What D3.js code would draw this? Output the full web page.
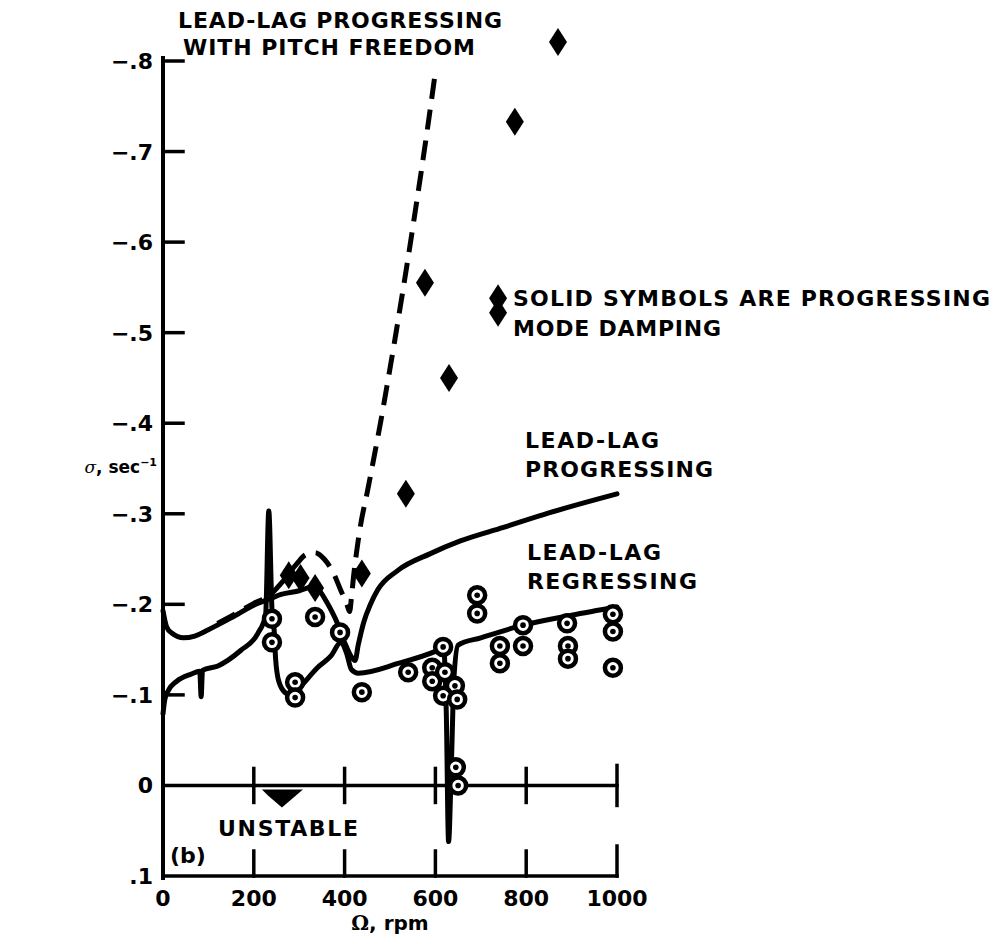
<!DOCTYPE html>
<html>
<head>
<meta charset="utf-8">
<script src="https://cdn.jsdelivr.net/npm/d3@7"></script>
<style>
  html, body { margin: 0; padding: 0; background: #fff; }
  svg { display: block; }
  text { font-family: "DejaVu Sans", "Liberation Sans", Arial, sans-serif; font-weight: bold; fill: #000; }
</style>
</head>
<body>
<svg id="chart" width="999" height="944"></svg>
<script>
// ---------------- data ----------------
const xTicks = [0, 200, 400, 600, 800, 1000];
const xTickLabels = ["0", "200", "400", "600", "800", "1000"];
const yTicks = [-0.8, -0.7, -0.6, -0.5, -0.4, -0.3, -0.2, -0.1, 0, 0.1];
const yTickLabels = ["\u2212.8", "\u2212.7", "\u2212.6", "\u2212.5", "\u2212.4", "\u2212.3", "\u2212.2", "\u2212.1", "0", ".1"];

// Lead-lag progressing (solid curve)
const progRpm   = [0, 8, 20, 45, 70, 100, 150, 200, 235, 260, 300, 335, 345, 360, 385, 400, 415, 423, 430, 442, 457, 473, 516, 589, 655, 750, 850, 1000];
const progSigma = [-0.193, -0.175, -0.168, -0.163, -0.165, -0.172, -0.185, -0.199, -0.206, -0.211, -0.215, -0.220, -0.215, -0.203, -0.178, -0.158, -0.142, -0.138, -0.155, -0.180, -0.200, -0.216, -0.237, -0.256, -0.270, -0.285, -0.301, -0.322];

// Lead-lag regressing (solid curve)
const regRpm   = [0, 4, 12, 30, 62, 81, 84, 87, 121, 171, 209, 226, 233, 240, 245, 248, 255, 270, 285, 310, 340, 370, 392, 405, 415, 430, 520, 600, 618, 624, 629, 635, 641, 650, 700, 793, 900, 1000];
const regSigma = [-0.079, -0.095, -0.105, -0.115, -0.123, -0.126, -0.098, -0.127, -0.132, -0.149, -0.168, -0.188, -0.303, -0.195, -0.170, -0.140, -0.115, -0.102, -0.099, -0.113, -0.130, -0.143, -0.158, -0.145, -0.128, -0.124, -0.135, -0.148, -0.152, -0.080, 0.062, -0.020, -0.120, -0.155, -0.163, -0.177, -0.188, -0.197];

// Lead-lag progressing with pitch freedom (dashed curve)
const pitchRpm   = [120, 150, 200, 235, 265, 295, 315, 335, 355, 375, 392, 405, 411, 415, 420, 427, 435, 450, 465, 480, 495, 510, 525, 540, 555, 570, 585, 600];
const pitchSigma = [-0.179, -0.187, -0.201, -0.210, -0.226, -0.245, -0.255, -0.257, -0.250, -0.235, -0.215, -0.200, -0.192, -0.207, -0.232, -0.260, -0.287, -0.324, -0.363, -0.403, -0.446, -0.490, -0.536, -0.583, -0.632, -0.682, -0.734, -0.788];

// Solid symbols: progressing mode damping (diamonds)
const solidRpm   = [870, 775, 577, 738, 738, 630, 535, 438, 277, 303, 335];
const solidSigma = [-0.821, -0.733, -0.555, -0.538, -0.522, -0.450, -0.322, -0.234, -0.232, -0.229, -0.218];

// Open symbols: regressing mode damping (circles)
const openRpm   = [240, 240, 335, 390, 291, 291, 438, 540, 617, 593, 593, 621, 643, 617, 648, 645, 650, 692, 692, 793, 793, 742, 742, 890, 892, 892, 991, 991, 991];
const openSigma = [-0.184, -0.158, -0.186, -0.169, -0.114, -0.097, -0.103, -0.125, -0.153, -0.130, -0.115, -0.125, -0.110, -0.099, -0.095, -0.020, 0.000, -0.210, -0.190, -0.177, -0.154, -0.154, -0.135, -0.179, -0.154, -0.140, -0.189, -0.170, -0.130];

// ---------------- chart ----------------
const svg = d3.select("#chart");
svg.append("rect").attr("width", 999).attr("height", 944).attr("fill", "#fff");

const x = d3.scaleLinear().domain([0, 1000]).range([163, 617]);
const y = d3.scaleLinear().domain([-0.8, 0.1]).range([61, 876]);

const ink = "#000";
const axisG = svg.append("g").attr("stroke", ink).attr("stroke-linecap", "square");

// left axis line
axisG.append("line")
  .attr("x1", x(0)).attr("x2", x(0))
  .attr("y1", y(-0.8) - 3).attr("y2", y(0.1) + 2)
  .attr("stroke-width", 4);

// left ticks (pointing inward)
axisG.selectAll(".ytick").data(yTicks.filter(t => t < 0)).enter().append("line")
  .attr("x1", x(0)).attr("x2", x(0) + 20)
  .attr("y1", d => y(d)).attr("y2", d => y(d))
  .attr("stroke-width", 3.5);

// zero line with crossing ticks
axisG.append("line")
  .attr("x1", x(0)).attr("x2", x(1000))
  .attr("y1", y(0)).attr("y2", y(0))
  .attr("stroke-width", 3.5);
axisG.selectAll(".ztick").data(xTicks.slice(1)).enter().append("line")
  .attr("x1", d => x(d)).attr("x2", d => x(d))
  .attr("y1", d => y(0) - (d === 1000 ? 20 : 17))
  .attr("y2", d => y(0) + (d === 1000 ? 20 : 17))
  .attr("stroke-width", 3.5);

// bottom axis line with upward ticks
axisG.append("line")
  .attr("x1", x(0)).attr("x2", x(1000))
  .attr("y1", y(0.1)).attr("y2", y(0.1))
  .attr("stroke-width", 3.5);
axisG.selectAll(".btick").data(xTicks.slice(1)).enter().append("line")
  .attr("x1", d => x(d)).attr("x2", d => x(d))
  .attr("y1", d => y(0.1) - (d === 1000 ? 30 : 25))
  .attr("y2", y(0.1))
  .attr("stroke-width", 3.5);

// y tick labels
svg.selectAll(".ylab").data(yTicks).enter().append("text")
  .attr("x", 153)
  .attr("y", d => y(d) + 8)
  .attr("text-anchor", "end")
  .attr("font-size", 22)
  .text((d, i) => yTickLabels[i]);

// x tick labels
svg.selectAll(".xlab").data(xTicks).enter().append("text")
  .attr("x", d => x(d))
  .attr("y", 906)
  .attr("text-anchor", "middle")
  .attr("font-size", 22)
  .text((d, i) => xTickLabels[i]);

// axis titles
const xt = svg.append("text").attr("x", 390).attr("y", 930).attr("text-anchor", "middle").attr("font-size", 20);
xt.append("tspan").attr("font-family", "DejaVu Serif, serif").text("\u03A9");
xt.append("tspan").text(", rpm");

const yt = svg.append("text").attr("x", 157).attr("y", 473).attr("text-anchor", "end").attr("font-size", 17);
yt.append("tspan").attr("font-family", "DejaVu Serif, serif").attr("font-style", "italic").attr("font-weight", "normal").text("\u03C3");
yt.append("tspan").text(", sec");
yt.append("tspan").attr("dy", -7).attr("font-size", 11).text("\u22121");

// ---------------- curves ----------------
const lineGen = d3.line().x(d => x(d[0])).y(d => y(d[1])).curve(d3.curveMonotoneX);
const zip = (a, b) => a.map((v, i) => [v, b[i]]);

const curves = svg.append("g").attr("fill", "none").attr("stroke", ink)
  .attr("stroke-linejoin", "round").attr("stroke-linecap", "round");

curves.append("path").attr("d", lineGen(zip(progRpm, progSigma))).attr("stroke-width", 5);
curves.append("path").attr("d", lineGen(zip(regRpm, regSigma))).attr("stroke-width", 5);
curves.append("path").attr("d", lineGen(zip(pitchRpm, pitchSigma)))
  .attr("stroke-width", 5).attr("stroke-dasharray", "20 11").attr("stroke-linecap", "butt");

// ---------------- symbols ----------------
const open = svg.append("g");
const openData = zip(openRpm, openSigma);
open.selectAll("circle.o").data(openData).enter().append("circle")
  .attr("cx", d => x(d[0])).attr("cy", d => y(d[1])).attr("r", 8)
  .attr("fill", "#fff").attr("stroke", ink).attr("stroke-width", 4.5);
open.selectAll("circle.dot").data(openData).enter().append("circle")
  .attr("cx", d => x(d[0])).attr("cy", d => y(d[1])).attr("r", 2.8)
  .attr("fill", ink);

const diamond = "M0,-14L9,0L0,14L-9,0Z";
svg.append("g").selectAll("path").data(zip(solidRpm, solidSigma)).enter().append("path")
  .attr("d", diamond)
  .attr("transform", d => `translate(${x(d[0])},${y(d[1])})`)
  .attr("fill", ink);

// unstable arrow (below zero line)
const ax = x(262), ay = y(0);
svg.append("path")
  .attr("d", `M${ax - 20},${ay + 4}L${ax + 21},${ay + 4}L${ax + 14},${ay + 10}L${ax},${ay + 22}L${ax - 14},${ay + 10}Z`)
  .attr("fill", ink);

// ---------------- annotations ----------------
const notes = [
  { t: "LEAD-LAG PROGRESSING", x: 178, y: 28, w: 324 },
  { t: "WITH PITCH FREEDOM", x: 183, y: 55, w: 292 },
  { t: "SOLID SYMBOLS ARE PROGRESSING", x: 513, y: 306, w: 477 },
  { t: "MODE DAMPING", x: 513, y: 336, w: 208 },
  { t: "LEAD-LAG", x: 525, y: 448, w: 134 },
  { t: "PROGRESSING", x: 525, y: 477, w: 188 },
  { t: "LEAD-LAG", x: 527, y: 560, w: 134 },
  { t: "REGRESSING", x: 527, y: 589, w: 170 },
  { t: "UNSTABLE", x: 218, y: 836, w: 140 },
  { t: "(b)", x: 170, y: 863, w: null }
];
svg.selectAll(".note").data(notes).enter().append("text")
  .attr("x", d => d.x).attr("y", d => d.y)
  .attr("font-size", 22)
  .attr("textLength", d => d.w)
  .attr("lengthAdjust", "spacing")
  .text(d => d.t);
</script>
</body>
</html>
